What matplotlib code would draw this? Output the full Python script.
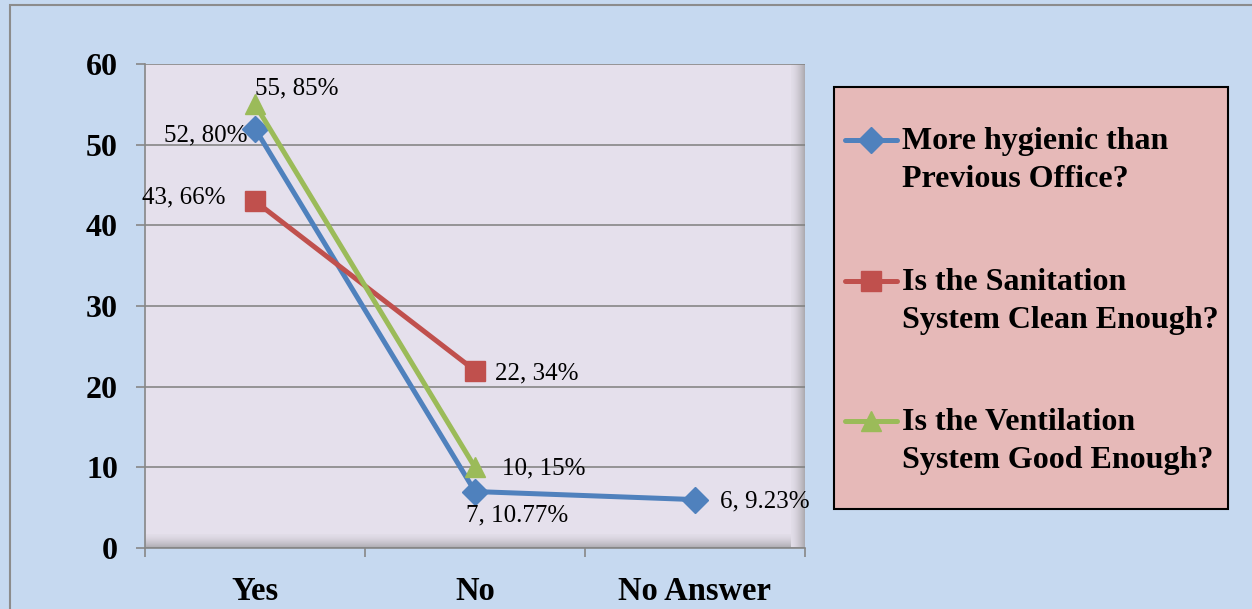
import matplotlib
matplotlib.use("Agg")
import matplotlib.pyplot as plt
from matplotlib.patches import Rectangle
from matplotlib.lines import Line2D

# survey answers per question: count and share of respondents
categories = ["Yes", "No", "No Answer"]
hygienic = [52, 7, 6]
hygienic_pct = ["80%", "10.77%", "9.23%"]
sanitation = [43, 22]
sanitation_pct = ["66%", "34%"]
ventilation = [55, 10]
ventilation_pct = ["85%", "15%"]
series_names = [
    "More hygienic than\nPrevious Office?",
    "Is the Sanitation\nSystem Clean Enough?",
    "Is the Ventilation\nSystem Good Enough?",
]
y_ticks = [0, 10, 20, 30, 40, 50, 60]

W, H = 1252, 609
BG = "#C6D9F0"
PLOT_BG = "#E5E0EC"
GRID = "#878787"
FONT = "Liberation Serif"

plt.rcParams["font.family"] = [FONT, "DejaVu Serif"]

fig = plt.figure(figsize=(W / 100, H / 100), dpi=100, facecolor=BG)
# outer chart frame (runs off the right and bottom edges)
fig.add_artist(Rectangle((10 / W, -0.05), 1.2, 1 - 5 / H + 0.05, transform=fig.transFigure,
                         facecolor="none", edgecolor="#8C8C8C", lw=1.5))

ax = fig.add_axes([145 / W, (H - 548) / H, 660 / W, 484 / H])
ax.set_facecolor(PLOT_BG)

series = [
    (hygienic, hygienic_pct, "#4F81BD", "D", 13, [(-7, -7, "right"), (-9, -24, "left"), (25, -2, "left")]),
    (sanitation, sanitation_pct, "#C0504D", "s", 14.5, [(-30, 4, "right"), (20, -3, "left")]),
    (ventilation, ventilation_pct, "#9BBB59", "^", 15, [(0, 16, "left"), (27, -1, "left")]),
]

for vals, pcts, col, mk, ms, offs in series:
    xs = list(range(len(vals)))
    ax.plot(xs, vals, color=col, lw=3.6, marker=mk, ms=ms, zorder=4, clip_on=False)
    for x, v, p, (dx, dy, ha) in zip(xs, vals, pcts, offs):
        ax.annotate(f"{v}, {p}", (x, v), xytext=(dx, dy), textcoords="offset pixels",
                    ha=ha, va="center", fontsize=18, color="black", zorder=5)

# inner bevel shading along the right and bottom edges of the plot area
n = 14
for k in range(n):
    a = 0.04 + 0.5 * (k / (n - 1)) ** 1.5
    ax.add_patch(Rectangle((1 - (n - k) / 660, 0), 1 / 660, 1, transform=ax.transAxes,
                           facecolor="#7F7F7F", edgecolor="none", alpha=a, zorder=2))
    ax.add_patch(Rectangle((0, (n - 1 - k) / 484), 1 - 14 / 660, 1 / 484, transform=ax.transAxes,
                           facecolor="#7F7F7F", edgecolor="none", alpha=a, zorder=2))

ax.set_xlim(-0.5, 2.5)
ax.set_ylim(0, 60)
ax.set_yticks(y_ticks)
ax.set_yticklabels([str(t) for t in y_ticks], fontsize=23, fontweight="bold")
ax.set_xticks(range(len(categories)))
ax.set_xticklabels(categories, fontsize=23.5, fontweight="bold")
ax.set_xticks([-0.5, 0.5, 1.5, 2.5], minor=True)
ax.tick_params(axis="x", which="major", length=0, pad=20)
ax.tick_params(axis="x", which="minor", length=6.5, width=1.2, color=GRID, direction="out")
ax.tick_params(axis="y", length=6.5, width=1.2, color=GRID, direction="out", pad=13)
ax.yaxis.grid(True, color=GRID, lw=1.2, zorder=1)
ax.set_axisbelow(True)
for s in ["top", "right"]:
    ax.spines[s].set_visible(False)
for s in ["left", "bottom"]:
    ax.spines[s].set_color(GRID)
    ax.spines[s].set_linewidth(1.2)

# legend box drawn by hand so each marker sits on the first text line
fig.add_artist(Rectangle((834 / W, (H - 509) / H), 394 / W, 422 / H, transform=fig.transFigure,
                         facecolor="#E6B9B8", edgecolor="black", lw=1.5))
row_y = [140, 281, 421]
for (vals, pcts, col, mk, ms, offs), name, ry in zip(series, series_names, row_y):
    fy = (H - ry) / H
    fig.add_artist(Line2D([845 / W, 897 / W], [fy, fy], transform=fig.transFigure,
                          color=col, lw=3.6, solid_capstyle="round"))
    fig.add_artist(Line2D([871 / W], [fy], transform=fig.transFigure, color=col,
                          marker=mk, ms=ms, lw=0))
    fig.text(902 / W, (H - ry + 13) / H, name, ha="left", va="top", fontsize=23,
             fontweight="bold", linespacing=1.4)

fig.savefig("out.png", dpi=100, facecolor=BG)
